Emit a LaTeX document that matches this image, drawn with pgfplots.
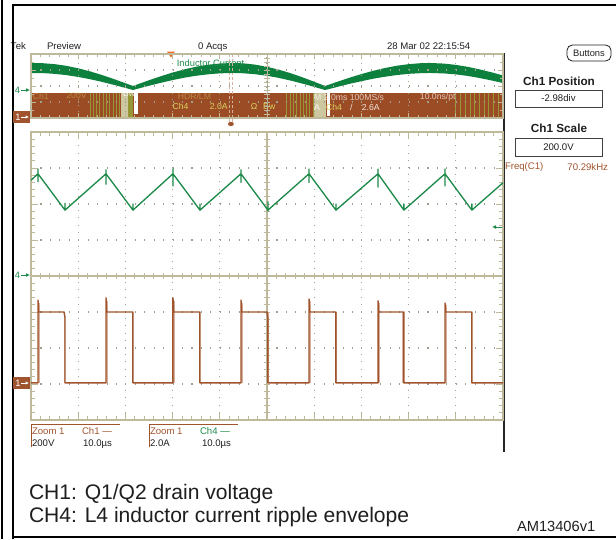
\documentclass[border=0pt]{standalone}
\usepackage{fontspec}
\setmainfont{Liberation Sans}
\usepackage{pgfplots}
\pgfplotsset{compat=1.18}
\usepgfplotslibrary{fillbetween}
\usetikzlibrary{arrows.meta}

\definecolor{grat}{RGB}{190,185,155}
\definecolor{dotc}{RGB}{160,160,145}
\definecolor{chfour}{RGB}{30,138,74}
\definecolor{envgreen}{RGB}{14,128,62}
\definecolor{chone}{RGB}{160,84,45}
\definecolor{chonepale}{RGB}{214,176,156}
\definecolor{band}{RGB}{156,76,36}
\definecolor{ovtext}{RGB}{220,208,96}
\definecolor{stripe}{RGB}{150,150,55}
\definecolor{paleol}{RGB}{205,200,160}
\definecolor{trig}{RGB}{240,110,40}
\definecolor{ink}{RGB}{30,30,30}

\newcommand\fs[1]{\fontsize{#1}{#1}\selectfont}

\pgfplotsset{
  scope screen/.style={
    scale only axis, clip=false,
    xmin=0, xmax=10, xtick={0,...,10}, minor x tick num=4,
    xticklabels={}, yticklabels={},
    tick align=inside,
    tick style={draw=grat, line width=0.6pt},
    axis line style={draw=grat, line width=1.1pt},
    grid=major,
  },
}

\begin{document}
\begin{tikzpicture}[every node/.append style={inner sep=0pt, outer sep=0pt}]

% canvas, in screen pixels (y downwards)
\begin{axis}[
  at={(0,0)}, anchor=south west,
  scale only axis, width=462pt, height=404.25pt,
  xmin=0, xmax=616, ymin=0, ymax=539, y dir=reverse,
  hide axis, clip=false,
]
\coordinate (cNW) at (axis cs:0,0);
\coordinate (cSE) at (axis cs:616,539);
\coordinate (ovSW) at (axis cs:31,118);
\coordinate (mainSW) at (axis cs:31,420);

% header line
\node[anchor=base west, text=ink] at (axis cs:11,49) {\fs{7.2}Tek};
\node[anchor=base west, text=ink] at (axis cs:47,49) {\fs{7.2}Preview};
\node[anchor=base west, text=ink] at (axis cs:198,49) {\fs{7.2}0 Acqs};
\node[anchor=base west, text=ink] at (axis cs:387,49) {\fs{7.2}28 Mar 02 22:15:54};

% frames
\draw[black, line width=0.8pt] (axis cs:2,0) -- (axis cs:2,539);
\draw[black, line width=1.5pt] (axis cs:13,539) -- (axis cs:13,5) -- (axis cs:616,5);
\draw[black, line width=1.5pt] (axis cs:13,537) -- (axis cs:616,537);
\draw[black!85, line width=0.8pt] (axis cs:504,53) -- (axis cs:504,452);

% right panel
\draw[ink, line width=0.6pt, rounded corners=4pt] (axis cs:567,45) rectangle (axis cs:611,61);
\node[text=ink] at (axis cs:589,53) {\fs{7}Buttons};
\node[anchor=base, text=ink] at (axis cs:559,85) {\fs{8.8}\bfseries Ch1 Position};
\draw[black!75, line width=0.7pt] (axis cs:515,90) rectangle (axis cs:602,107);
\node[text=ink] at (axis cs:558.5,98.5) {\fs{7.2}-2.98div};
\node[anchor=base, text=ink] at (axis cs:559,132) {\fs{8.8}\bfseries Ch1 Scale};
\draw[black!75, line width=0.7pt] (axis cs:515,138) rectangle (axis cs:602,156);
\node[text=ink] at (axis cs:558.5,147) {\fs{7.2}200.0V};
\node[anchor=west, text=chone] at (axis cs:505,167) {\fs{7.2}Freq(C1)};
\node[anchor=east, text=chone] at (axis cs:608,167) {\fs{7.2}70.29kHz};

% channel markers on the left
\node[text=chfour] at (axis cs:17.5,90) {\fs{7}4};
\draw[chfour, line width=0.6pt, -{Latex[length=3pt,width=3pt]}] (axis cs:21,90) -- (axis cs:30,90);
\fill[chone] (axis cs:13,111) rectangle (axis cs:30,123);
\node[text=white] at (axis cs:18,117) {\fs{7}1};
\draw[white, line width=0.6pt, -{Latex[length=2.5pt,width=2.5pt]}] (axis cs:21,117) -- (axis cs:29,117);
\node[text=chfour] at (axis cs:17.5,275) {\fs{7}4};
\draw[chfour, line width=0.6pt, -{Latex[length=3pt,width=3pt]}] (axis cs:21,275) -- (axis cs:30,275);
\fill[chone] (axis cs:13,377) rectangle (axis cs:30,389);
\node[text=white] at (axis cs:18,383) {\fs{7}1};
\draw[white, line width=0.6pt, -{Latex[length=2.5pt,width=2.5pt]}] (axis cs:21,383) -- (axis cs:29,383);
\draw[chfour, line width=0.7pt, -{Latex[length=3pt,width=3pt]}] (axis cs:502,227) -- (axis cs:492,227);

% readouts under the screen
\draw[chone, line width=0.6pt] (axis cs:31,447) -- (axis cs:31,424) -- (axis cs:120,424);
\draw[chone, line width=0.6pt] (axis cs:149,447) -- (axis cs:149,424) -- (axis cs:238,424);
\node[anchor=base west, text=chone] at (axis cs:32,434) {\fs{7.2}Zoom 1};
\node[anchor=base west, text=chone] at (axis cs:82,434) {\fs{7.2}Ch1 —};
\node[anchor=base west, text=ink] at (axis cs:32,446) {\fs{7.2}200V};
\node[anchor=base west, text=ink] at (axis cs:83,446) {\fs{7.2}10.0µs};
\node[anchor=base west, text=chone] at (axis cs:150,434) {\fs{7.2}Zoom 1};
\node[anchor=base west, text=chfour] at (axis cs:200,434) {\fs{7.2}Ch4 —};
\node[anchor=base west, text=ink] at (axis cs:150,446) {\fs{7.2}2.0A};
\node[anchor=base west, text=ink] at (axis cs:202,446) {\fs{7.2}10.0µs};

% caption
\node[anchor=base west, text=ink] at (axis cs:29,499) {\fs{15.8}CH1: Q1/Q2 drain voltage};
\node[anchor=base west, text=ink] at (axis cs:29,522) {\fs{15.8}CH4: L4 inductor current ripple envelope};
\node[anchor=base west, text=ink] at (axis cs:517,531) {\fs{11}AM13406v1};
\end{axis}

% overview record (2 ms/div)
\begin{axis}[scope screen,
  at={(ovSW)}, anchor=south west, width=354pt, height=48pt,
  ymin=0, ymax=8, ytick={0,2,...,8}, minor y tick num=1,
  major tick length=4pt, minor tick length=2.2pt,
  x grid style={draw=dotc, line width=0.9pt, dash pattern=on 0.8pt off 3.7pt},
  y grid style={draw=dotc, line width=0.9pt, dash pattern=on 0.8pt off 6.28pt},
  axis on top,
]
\node[anchor=west, text=chfour] at (axis cs:3.09,6.9) {\fs{7}Inductor Current};

\addplot[name path=envtop, draw=none] coordinates {
 (0,6.87) (0.25,6.85) (0.5,6.73) (0.75,6.52) (1,6.21) (1.25,5.83) (1.5,5.38)
 (1.75,4.88) (2,4.35) (2.16,4.0) (2.25,4.19) (2.5,4.72) (2.75,5.22) (3,5.68)
 (3.25,6.08) (3.5,6.41) (3.75,6.66) (4,6.81) (4.28,6.88) (4.5,6.83) (4.75,6.67)
 (5,6.40) (5.25,6.04) (5.5,5.60) (5.75,5.09) (6,4.53) (6.23,4.0) (6.5,4.55)
 (6.75,5.04) (7,5.49) (7.25,5.90) (7.5,6.25) (7.75,6.53) (8,6.73) (8.25,6.85)
 (8.45,6.88) (8.75,6.80) (9,6.64) (9.25,6.40) (9.5,6.08) (9.75,5.72) (10,5.32)
};
\addplot[name path=envbot, draw=none] coordinates {
 (0,5.62) (0.25,5.61) (0.5,5.52) (0.75,5.36) (1,5.13) (1.25,4.85) (1.5,4.52)
 (1.75,4.15) (2,3.76) (2.16,3.5) (2.25,3.64) (2.5,4.03) (2.75,4.40) (3,4.74)
 (3.25,5.04) (3.5,5.28) (3.75,5.46) (4,5.58) (4.28,5.63) (4.5,5.59) (4.75,5.47)
 (5,5.28) (5.25,5.01) (5.5,4.68) (5.75,4.30) (6,3.89) (6.23,3.5) (6.5,3.90)
 (6.75,4.27) (7,4.60) (7.25,4.91) (7.5,5.16) (7.75,5.37) (8,5.52) (8.25,5.60)
 (8.45,5.63) (8.75,5.57) (9,5.45) (9.25,5.26) (9.5,5.00) (9.75,4.70) (10,4.37)
};
\addplot[envgreen] fill between[of=envtop and envbot];

% switching node, compressed into a band
\addplot[fill=band, draw=none] coordinates {(0,0.12) (10,0.12) (10,3.12) (0,3.12)};

% stripes and gaps over the band
\fill[paleol] (axis cs:1.90,0.12) rectangle (axis cs:2.05,3.12);
\fill[stripe] (axis cs:2.05,0.12) rectangle (axis cs:2.16,3.12);
\fill[white] (axis cs:2.18,0.5) rectangle (axis cs:2.27,3.12);
\fill[paleol] (axis cs:5.97,0.12) rectangle (axis cs:6.25,3.12);
\fill[white] (axis cs:6.27,0.3) rectangle (axis cs:6.33,3.12);
\pgfplotsinvokeforeach{1.25,1.32,...,1.88}{\draw[stripe, line width=0.7pt] (axis cs:#1,0.12) -- (axis cs:#1,3.12);}
\pgfplotsinvokeforeach{5.42,5.49,...,5.95}{\draw[stripe, line width=0.7pt] (axis cs:#1,0.12) -- (axis cs:#1,3.12);}
\pgfplotsinvokeforeach{9.0,9.1,...,9.95}{\draw[stripe, line width=0.6pt] (axis cs:#1,0.12) -- (axis cs:#1,3.12);}

% readout text shown through the band
\node[anchor=west, text=ovtext, opacity=0.45] at (axis cs:0.04,2.75) {\fs{6.5}Ch1};
\node[anchor=west, text=ovtext, opacity=0.45] at (axis cs:0.75,2.75) {\fs{6.5}200V};
\node[anchor=west, text=white, opacity=0.8] at (axis cs:1.95,3.05) {\fs{6.5}Bw};
\node[anchor=west, text=ovtext, opacity=0.45] at (axis cs:3.11,2.75) {\fs{6.5}HDR/LM};
\node[anchor=west, text=ovtext] at (axis cs:3.0,1.4) {\fs{6.5}Ch4};
\node[anchor=west, text=ovtext] at (axis cs:3.79,1.4) {\fs{6.5}2.0A};
\node[anchor=west, text=ovtext] at (axis cs:4.66,1.4) {\fs{6.5}Ω};
\node[anchor=west, text=ovtext] at (axis cs:4.92,1.4) {\fs{6.5}Bw};
\node[anchor=west, text=white, opacity=0.7] at (axis cs:6.0,2.6) {\fs{6.5}M 2.0ms 100MS/s};
\node[anchor=west, text=white, opacity=0.7] at (axis cs:8.24,2.6) {\fs{6.5}10.0ns/pt};
\node[anchor=west, text=white, opacity=0.85] at (axis cs:6.0,1.3) {\fs{6.5}A};
\node[anchor=west, text=ovtext] at (axis cs:6.25,1.3) {\fs{6.5}Ch4};
\node[anchor=west, text=white, opacity=0.85] at (axis cs:6.76,1.3) {\fs{6.5}/};
\node[anchor=west, text=white, opacity=0.85] at (axis cs:7.01,1.3) {\fs{6.5}2.6A};

% centre line
\draw[grat, line width=0.7pt] (axis cs:5,0) -- (axis cs:5,8);
\pgfplotsinvokeforeach{0.5,1,...,7.5}{\draw[grat, line width=0.6pt] (axis cs:4.93,#1) -- (axis cs:5.07,#1);}

% zoom position and trigger
\draw[chonepale, line width=0.8pt, dash pattern=on 2pt off 1.5pt] (axis cs:4.20,8) -- (axis cs:4.20,-0.5);
\draw[chonepale, line width=0.8pt, dash pattern=on 2pt off 1.5pt] (axis cs:4.27,8) -- (axis cs:4.27,-0.5);
\fill[chone] (axis cs:4.235,-0.75) ellipse [x radius=2.2pt, y radius=1.6pt];
\fill[trig] (axis cs:2.88,8.3) -- (axis cs:3.05,8.3) -- (axis cs:2.966,7.55) -- cycle;
\end{axis}

% zoomed window (10 us/div)
\begin{axis}[scope screen,
  at={(mainSW)}, anchor=south west, width=354pt, height=216pt,
  ymin=-4, ymax=4, ytick={-4,...,4}, minor y tick num=4,
  major tick length=5pt, minor tick length=3pt,
  x grid style={draw=dotc, line width=0.9pt, dash pattern=on 0.8pt off 4.6pt},
  y grid style={draw=dotc, line width=0.9pt, dash pattern=on 0.8pt off 6.28pt},
  unbounded coords=jump,
]
\draw[grat, line width=0.8pt] (axis cs:5,-4) -- (axis cs:5,4);
\draw[grat, line width=0.8pt] (axis cs:0,0) -- (axis cs:10,0);
\pgfplotsinvokeforeach{0.2,0.4,...,9.8}{\draw[grat, line width=0.6pt] (axis cs:#1,-0.085) -- (axis cs:#1,0.085);}
\pgfplotsinvokeforeach{-3.8,-3.6,...,3.8}{\draw[grat, line width=0.6pt] (axis cs:4.935,#1) -- (axis cs:5.065,#1);}

% CH1 edges, persistence
\addplot[chonepale, line width=1.1pt] coordinates {
 (0.165,-2.97) (0.165,-0.75) (0.165,nan)
 (0.705,-1.0) (0.705,-2.97) (0.705,nan)
 (1.606,-2.97) (1.606,-0.7) (1.606,nan)
 (2.145,-1.0) (2.145,-2.97) (2.145,nan)
 (3.025,-2.97) (3.025,-0.7) (3.025,nan)
 (3.565,-1.0) (3.565,-2.97) (3.565,nan)
 (4.466,-2.97) (4.466,-0.75) (4.466,nan)
 (5.035,-1.0) (5.035,-2.97) (5.035,nan)
 (5.907,-2.97) (5.907,-0.7) (5.907,nan)
 (6.475,-1.0) (6.475,-2.97) (6.475,nan)
 (7.369,-2.97) (7.369,-0.75) (7.369,nan)
 (7.885,-1.0) (7.885,-2.97) (7.885,nan)
 (8.788,-2.97) (8.788,-0.8) (8.788,nan)
};

% CH1: Q1/Q2 drain voltage
\addplot[chone, line width=1.1pt, line join=round] coordinates {
 (0,-2.97) (0.148,-2.97) (0.148,-0.67) (0.16,-1.0) (0.70,-1.0) (0.72,-1.15) (0.72,-2.97)
 (1.589,-2.97) (1.589,-0.61) (1.601,-1.0) (2.16,-1.0) (2.16,-2.97)
 (3.008,-2.97) (3.008,-0.61) (3.02,-1.0) (3.58,-1.0) (3.58,-2.97)
 (4.449,-2.97) (4.449,-0.67) (4.461,-1.0) (5.0,-1.0) (5.02,-1.2) (5.02,-2.97)
 (5.89,-2.97) (5.89,-0.64) (5.902,-1.0) (6.46,-1.0) (6.46,-2.97)
 (7.352,-2.97) (7.352,-0.69) (7.364,-1.0) (7.90,-1.0) (7.90,-2.97)
 (8.771,-2.97) (8.771,-0.75) (8.783,-1.0) (9.34,-1.0) (9.34,-1.08) (9.34,-2.97) (10,-2.97)
};

% CH4: inductor current ripple
\addplot[chfour, line width=1pt, line join=round] coordinates {
 (0,2.66) (0.148,2.84) (0.148,2.97) (0.148,2.62) (0.148,2.84)
 (0.72,1.83) (0.72,2.02) (0.72,1.83)
 (1.589,2.84) (1.589,2.95) (1.589,2.55) (1.589,2.84)
 (2.16,1.83) (2.16,2.0) (2.16,1.83)
 (3.008,2.84) (3.008,2.98) (3.008,2.5) (3.008,2.84)
 (3.58,1.83) (3.58,2.0) (3.58,1.83)
 (4.449,2.84) (4.449,2.95) (4.449,2.6) (4.449,2.84)
 (5.02,1.83) (5.02,2.06) (5.02,1.80) (5.02,1.83)
 (5.89,2.84) (5.89,2.97) (5.89,2.6) (5.89,2.84)
 (6.46,1.83) (6.46,2.0) (6.46,1.83)
 (7.352,2.84) (7.352,2.97) (7.352,2.47) (7.352,2.84)
 (7.90,1.83) (7.90,2.0) (7.90,1.83)
 (8.771,2.84) (8.771,2.97) (8.771,2.5) (8.771,2.84)
 (9.34,1.83) (9.34,2.0) (9.34,1.83)
 (10,2.59)
};
\end{axis}

\pgfresetboundingbox
\path[use as bounding box] (cNW) rectangle (cSE);
\end{tikzpicture}
\end{document}
